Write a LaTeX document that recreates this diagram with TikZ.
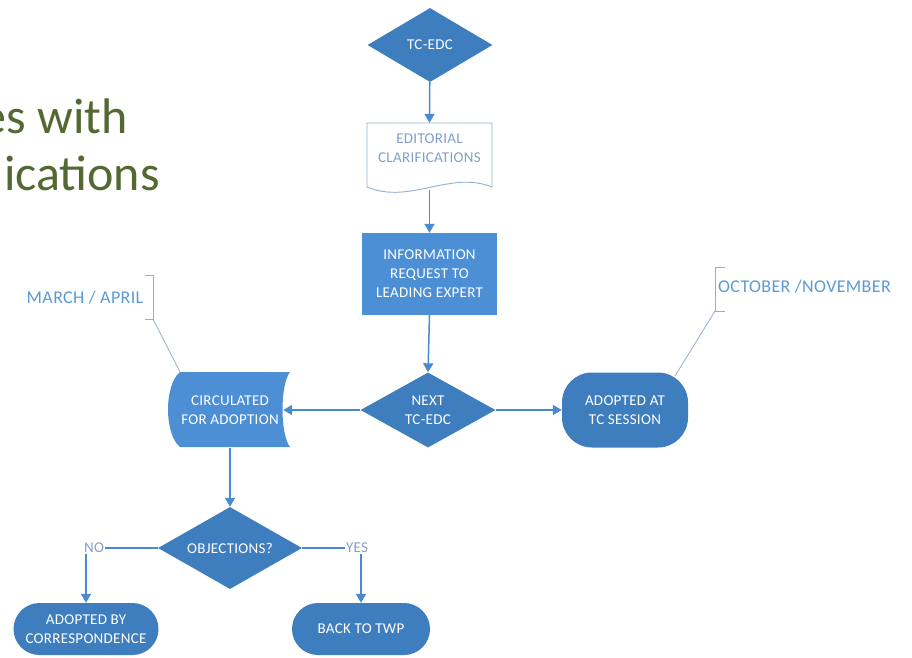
\documentclass[tikz,border=0pt]{standalone}
\usepackage{fontspec}
\setmainfont{Carlito}
\newfontfamily\nodefont[LetterSpace=2]{Carlito}
\usetikzlibrary{shapes.geometric,arrows.meta,calc}
\definecolor{dk}{RGB}{62,125,190}
\definecolor{lt}{RGB}{76,143,212}
\definecolor{ln}{RGB}{74,138,206}
\definecolor{ann}{RGB}{91,155,213}
\definecolor{brk}{RGB}{150,175,205}
\definecolor{ttl}{RGB}{84,104,50}
\definecolor{doctxt}{RGB}{130,160,200}
\begin{document}
\begin{tikzpicture}[x=1pt,y=-1pt,
  every node/.style={font=\nodefont\fontsize{15}{19}\selectfont},
  dia/.style={diamond, fill=dk, text=white, inner sep=0pt, aspect=1.7, align=center},
  term/.style={rectangle, fill=dk, text=white, align=center, inner sep=0pt},
  proc/.style={rectangle, fill=lt, text=white, align=center, inner sep=0pt},
  hidden/.style={rectangle, inner sep=0pt, align=center},
  arr/.style={draw=ln, line width=1.5pt, -{Triangle[width=10pt,length=9pt]}},
  plainline/.style={draw=ln, line width=1.3pt},
  brkt/.style={draw=brk, line width=0.8pt},
  anntext/.style={text=ann, inner sep=1pt, font=\nodefont\fontsize{18}{20}\selectfont},
  yn/.style={text=doctxt, inner sep=1pt}
]
\useasboundingbox (0,0) rectangle (912,657);
\fill[white] (0,0) rectangle (912,657);
\clip (0,0) rectangle (912,657);

% title fragment
\node[anchor=base east, text=ttl, inner sep=0pt, font=\fontsize{50}{57}\selectfont] (t1) at (128,133) {es with};
\node[anchor=base east, text=ttl, inner sep=0pt, font=\fontsize{50}{57}\selectfont] (t2) at (160,190) {ications};

% custom shapes drawn directly
\draw[draw=brk, line width=0.9pt, fill=white]
  (367,123) -- (492,123) -- (492,187)
  .. controls (450,170) and (410,205) .. (367,187) -- cycle;
\fill[lt] (290,372) -- (180,372) .. controls (164,385) and (164,434) .. (180,447)
  -- (290,447) .. controls (280,434) and (280,385) .. (290,372) -- cycle;

% nodes
\node[dia, minimum width=125pt, minimum height=74pt] (tc) at (430,45) {TC-EDC};
\node[hidden, text=doctxt, minimum width=125pt, minimum height=64pt] (doc) at (429.5,148) {EDITORIAL\\CLARIFICATIONS};
\node[proc, minimum width=135pt, minimum height=82pt] (info) at (429.5,274) {INFORMATION\\REQUEST TO\\LEADING EXPERT};
\node[dia, minimum width=135pt, minimum height=75pt] (next) at (428,410) {NEXT\\TC-EDC};
\node[term, rounded corners=30pt, minimum width=126pt, minimum height=75pt] (tcs) at (625,410) {ADOPTED AT\\TC SESSION};
\node[hidden, text=white, minimum width=110pt, minimum height=75pt] (circ) at (230,410) {CIRCULATED\\FOR ADOPTION};
\node[dia, minimum width=144pt, minimum height=82pt] (obj) at (230,548) {OBJECTIONS?};
\node[term, rounded corners=26pt, minimum width=145pt, minimum height=52pt] (abc) at (86,629) {ADOPTED BY\\CORRESPONDENCE};
\node[term, rounded corners=26pt, minimum width=138pt, minimum height=52pt] (back) at (361,629) {BACK TO TWP};
\node[yn] (no) at (94,548) {NO};
\node[yn] (yes) at (357,548) {YES};

% annotations
\node[anntext] (ma) at (85,298) {MARCH / APRIL};
\node[anntext, anchor=west] (oct) at (717,287) {OCTOBER /NOVEMBER};
\draw[brkt] (145,275) -- (153,275) -- (153,319) -- (145,319);
\draw[brkt] (725,267) -- (715,267) -- (715,311) -- (725,311);
\coordinate (mab) at (153,319);
\coordinate (octb) at (715,311);
\coordinate (circtl) at (180,372);
\coordinate (tcstr) at (675,376);
\draw[brkt] (mab) -- (circtl);
\draw[brkt] (octb) -- (tcstr);

% connectors
\draw[arr] (tc) -- ($(doc.north)+(0,7)$);
\draw[arr] ($(doc.south)+(0,10)$) -- (info.north);
\draw[arr] (info.south) -- (next.north);
\draw[arr] (next.east) -- (tcs.west);
\draw[arr] (next.west) -- ($(circ.east)+(-2,0)$);
\draw[arr] (circ.south) -- (obj.north);
\draw[plainline] (obj.west) -- (no.east);
\draw[plainline] (obj.east) -- (yes.west);
\draw[arr] (abc.north |- no.south) -- (abc.north);
\draw[arr] (back.north |- yes.south) -- (back.north);
\end{tikzpicture}
\end{document}
